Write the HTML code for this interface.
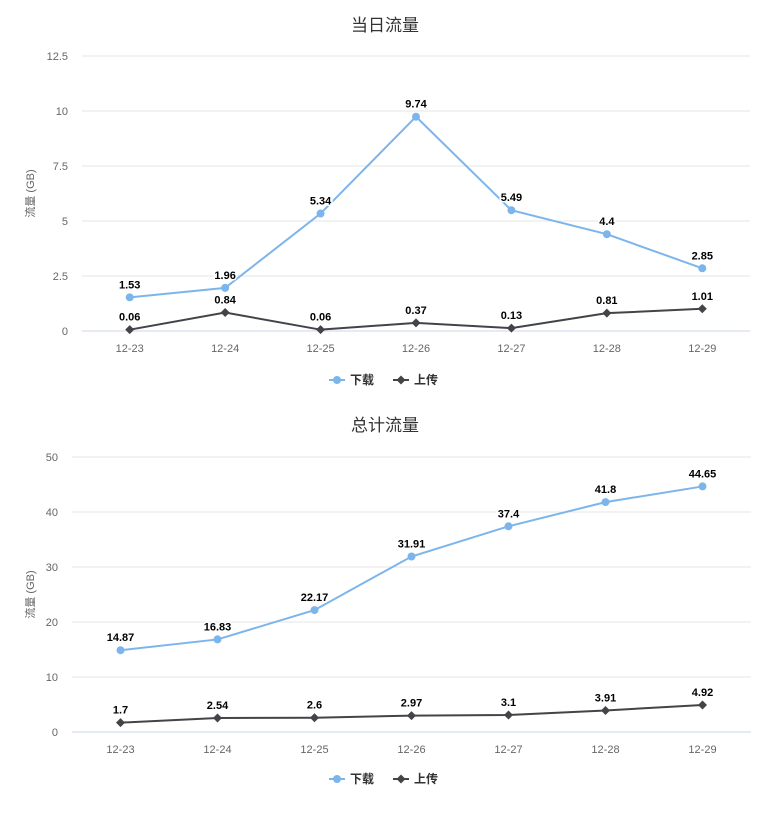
<!DOCTYPE html>
<html><head><meta charset="utf-8"><style>
body{margin:0;background:#fff;font-family:"Liberation Sans","Noto Sans CJK SC",sans-serif}
svg text{font-family:"Liberation Sans","Noto Sans CJK SC",sans-serif}
</style></head><body>
<svg id="s" width="769" height="816" xmlns="http://www.w3.org/2000/svg"></svg>
<script>
const categories=["12-23","12-24","12-25","12-26","12-27","12-28","12-29"];
const dailyDownload=[1.53,1.96,5.34,9.74,5.49,4.4,2.85];
const dailyUpload=[0.06,0.84,0.06,0.37,0.13,0.81,1.01];
const dailyTicks=["0","2.5","5","7.5","10","12.5"];
const totalDownload=[14.87,16.83,22.17,31.91,37.4,41.8,44.65];
const totalUpload=[1.7,2.54,2.6,2.97,3.1,3.91,4.92];
const totalTicks=["0","10","20","30","40","50"];
const svg=document.getElementById('s');const NS="http://www.w3.org/2000/svg";
function el(t,a,p){const e=document.createElementNS(NS,t);for(const k in a)e.setAttribute(k,a[k]);(p||svg).appendChild(e);return e;}
function chart(cfg){
 const g=el('g',{});
 
 
 const max=parseFloat(cfg.ticks[cfg.ticks.length-1]);
 const y=v=>cfg.y0-(v/max)*(cfg.y0-cfg.yTop);
 const step=(cfg.right-cfg.left)/categories.length;
 const x=i=>cfg.left+step*(i+0.5);
 const t=el('text',{x:385,y:cfg.titleY,'text-anchor':'middle','font-size':17,fill:'#333'},g);t.textContent=cfg.title;
 
 cfg.ticks.forEach(s=>{const v=parseFloat(s);
  if(v>0)el('line',{x1:cfg.left,x2:cfg.right,y1:y(v),y2:y(v),stroke:'#e6e6e6'},g);
  const tt=el('text',{x:cfg.left-14,y:y(v)+4,'text-anchor':'end','font-size':11,fill:'#666'},g);tt.textContent=s;
  });
 el('line',{x1:cfg.left,x2:cfg.right,y1:cfg.y0,y2:cfg.y0,stroke:'#ccd6eb'},g);
 const yt=el('text',{x:34,y:(cfg.y0+cfg.yTop)/2,'text-anchor':'middle','font-size':11,fill:'#666',transform:`rotate(-90 34 ${(cfg.y0+cfg.yTop)/2})`},g);yt.textContent='流量 (GB)';
 
 categories.forEach((c,i)=>{const tx=el('text',{x:x(i),y:cfg.y0+21,'text-anchor':'middle','font-size':11,fill:'#666'},g);tx.textContent=c;
  });
 [[cfg.up,'#434348','diamond','upload-series'],[cfg.down,'#7cb5ec','circle','download-series']].forEach(([d,col,m,nm])=>{
  const pl=el('polyline',{points:d.map((v,i)=>x(i)+','+y(v)).join(' '),fill:'none',stroke:col,'stroke-width':2},g);
  
  d.forEach((v,i)=>{let mk;
   if(m==='circle')mk=el('circle',{cx:x(i),cy:y(v),r:4,fill:col},g);
   else mk=el('path',{d:`M${x(i)} ${y(v)-4.5}L${x(i)+4.5} ${y(v)}L${x(i)} ${y(v)+4.5}L${x(i)-4.5} ${y(v)}Z`,fill:col},g);
   
   const lb=el('text',{x:x(i),y:y(v)-9,'text-anchor':'middle','font-size':11,'font-weight':'bold',fill:'#000',stroke:'#fff','stroke-width':3,'paint-order':'stroke'},g);lb.textContent=v;
   });
 });
 const ly=cfg.legendY;
 const l1=el('g',{},g);
 el('line',{x1:329,x2:345,y1:ly,y2:ly,stroke:'#7cb5ec','stroke-width':2},l1);el('circle',{cx:337,cy:ly,r:4,fill:'#7cb5ec'},l1);
 const a=el('text',{x:350,y:ly+4,'font-size':12,'font-weight':'bold',fill:'#333'},l1);a.textContent='下载';
 const l2=el('g',{},g);
 el('line',{x1:393,x2:409,y1:ly,y2:ly,stroke:'#434348','stroke-width':2},l2);el('path',{d:`M401 ${ly-4.5}L405.5 ${ly}L401 ${ly+4.5}L396.5 ${ly}Z`,fill:'#434348'},l2);
 const b=el('text',{x:414,y:ly+4,'font-size':12,'font-weight':'bold',fill:'#333'},l2);b.textContent='上传';
}
chart({name:'daily-traffic-chart',title:'当日流量',titleY:31,left:82,right:750,y0:331,yTop:56,ticks:dailyTicks,down:dailyDownload,up:dailyUpload,legendY:380});
chart({name:'total-traffic-chart',title:'总计流量',titleY:431,left:72,right:751,y0:732,yTop:457,ticks:totalTicks,down:totalDownload,up:totalUpload,legendY:779});
</script>
</body></html>
